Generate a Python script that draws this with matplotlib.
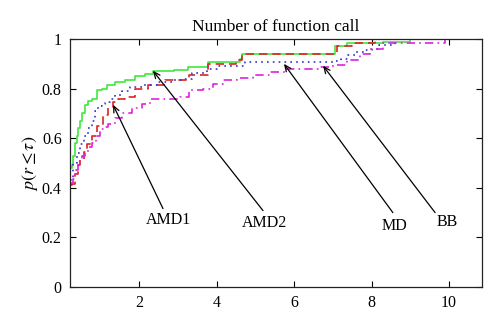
import matplotlib
matplotlib.use("Agg")
import matplotlib.pyplot as plt
from matplotlib.ticker import FuncFormatter

plt.rcParams['font.family'] = ['Liberation Serif', 'DejaVu Serif']
plt.rcParams['mathtext.fontset'] = 'stix'

title = "Number of function call"
ylabel = r"$p(r \leq \tau)$"
xticks = [2, 4, 6, 8, 10]
yticks = [0, 0.2, 0.4, 0.6, 0.8, 1.0]

amd2_x = [0.22,0.27,0.31,0.35,0.39,0.43,0.48,0.53,0.6,0.68,0.79,0.92,1.05,1.18,1.38,1.64,1.9,2.15,2.36,2.9,3.26,3.78,4.6,4.65,7.06,7.37,8.3,9.0,10.85]
amd2_y = [0.48,0.49,0.53,0.58,0.61,0.64,0.67,0.70,0.735,0.75,0.76,0.795,0.80,0.815,0.828,0.836,0.852,0.86,0.872,0.876,0.888,0.908,0.92,0.94,0.97,0.984,0.99,1.0,1.0]

amd1_x = [0.22,0.27,0.35,0.42,0.48,0.57,0.66,0.78,0.92,1.07,1.2,1.33,1.45,1.64,1.9,2.23,2.67,3.3,3.78,4.5,4.65,7.1,7.5,8.1,10.85]
amd1_y = [0.41,0.416,0.456,0.49,0.515,0.545,0.576,0.61,0.648,0.695,0.72,0.748,0.76,0.768,0.8,0.816,0.836,0.856,0.9,0.916,0.94,0.972,0.984,1.0,1.0]

md_x = [0.22,0.3,0.4,0.48,0.58,0.68,0.78,0.86,0.95,1.04,1.12,1.25,1.38,1.55,1.77,2.1,2.5,2.9,3.1,3.37,3.75,4.0,4.73,7.06,7.2,7.4,7.6,7.8,8.0,8.2,8.6,10.85]
md_y = [0.43,0.5,0.54,0.576,0.61,0.64,0.67,0.71,0.73,0.74,0.745,0.76,0.776,0.79,0.805,0.815,0.825,0.835,0.84,0.864,0.88,0.892,0.908,0.91,0.92,0.935,0.948,0.955,0.96,0.976,1.0,1.0]

bb_x = [0.22,0.3,0.36,0.43,0.52,0.6,0.7,0.78,0.88,0.99,1.1,1.2,1.38,1.56,1.82,2.08,2.28,3.06,3.3,3.65,3.9,4.17,4.53,4.94,5.38,5.77,6.23,6.67,7.0,7.37,7.7,7.96,8.3,9.9,10.85]
bb_y = [0.42,0.436,0.47,0.508,0.53,0.548,0.565,0.58,0.61,0.636,0.645,0.656,0.68,0.7,0.72,0.74,0.76,0.765,0.796,0.8,0.82,0.836,0.844,0.856,0.868,0.88,0.88,0.888,0.896,0.916,0.94,0.96,0.985,1.0,1.0]

# annotation: label, text center (x, y), tail (x, y), head (x, y)
labels = ["AMD1", "AMD2", "MD", "BB"]
label_xy = [(2.77, 0.272), (5.25, 0.258), (8.6, 0.244), (9.95, 0.262)]
tail_xy = [(2.62, 0.316), (5.2, 0.308), (8.55, 0.3), (9.64, 0.3)]
head_xy = [(1.33, 0.735), (2.36, 0.872), (5.74, 0.9), (6.75, 0.892)]

fig = plt.figure(figsize=(5.0, 3.28), dpi=100)
ax = fig.add_axes([0.14, 0.125, 0.824, 0.756])

ax.plot(amd2_x, amd2_y, drawstyle='steps-post', color='#3ee83e', lw=1.2, linestyle='-')
ax.plot(amd1_x, amd1_y, drawstyle='steps-post', color='#dd2222', lw=1.2, linestyle=(0, (5, 3)))
ax.plot(md_x, md_y, drawstyle='steps-post', color='#3333cc', lw=1.2, linestyle=(0, (1, 2.5)))
ax.plot(bb_x, bb_y, drawstyle='steps-post', color='#dd22dd', lw=1.2, linestyle=(0, (5, 2.5, 1, 2.5)))

for lab, txy, tl, hd in zip(labels, label_xy, tail_xy, head_xy):
    ax.annotate('', xy=hd, xytext=tl,
                arrowprops=dict(arrowstyle='->,head_length=0.45,head_width=0.2',
                                color='k', lw=0.9, shrinkA=0, shrinkB=0))
    ax.text(txy[0], txy[1], lab, ha='center', va='center', fontsize=11.5)

ax.set_xlim(0.22, 10.85)
ax.set_ylim(0, 1)
ax.set_xticks(xticks)
ax.set_yticks(yticks)
ax.yaxis.set_major_formatter(FuncFormatter(lambda v, p: f"{v:g}"))
ax.tick_params(direction='in', top=True, right=True, length=4, width=0.8, labelsize=11.5, pad=6)
for s in ax.spines.values():
    s.set_linewidth(0.9)
    s.set_color('#222222')
ax.set_title(title, fontsize=12.5, pad=6)
ax.set_ylabel(ylabel, fontsize=13, labelpad=1)

fig.savefig("out.png", dpi=100)
